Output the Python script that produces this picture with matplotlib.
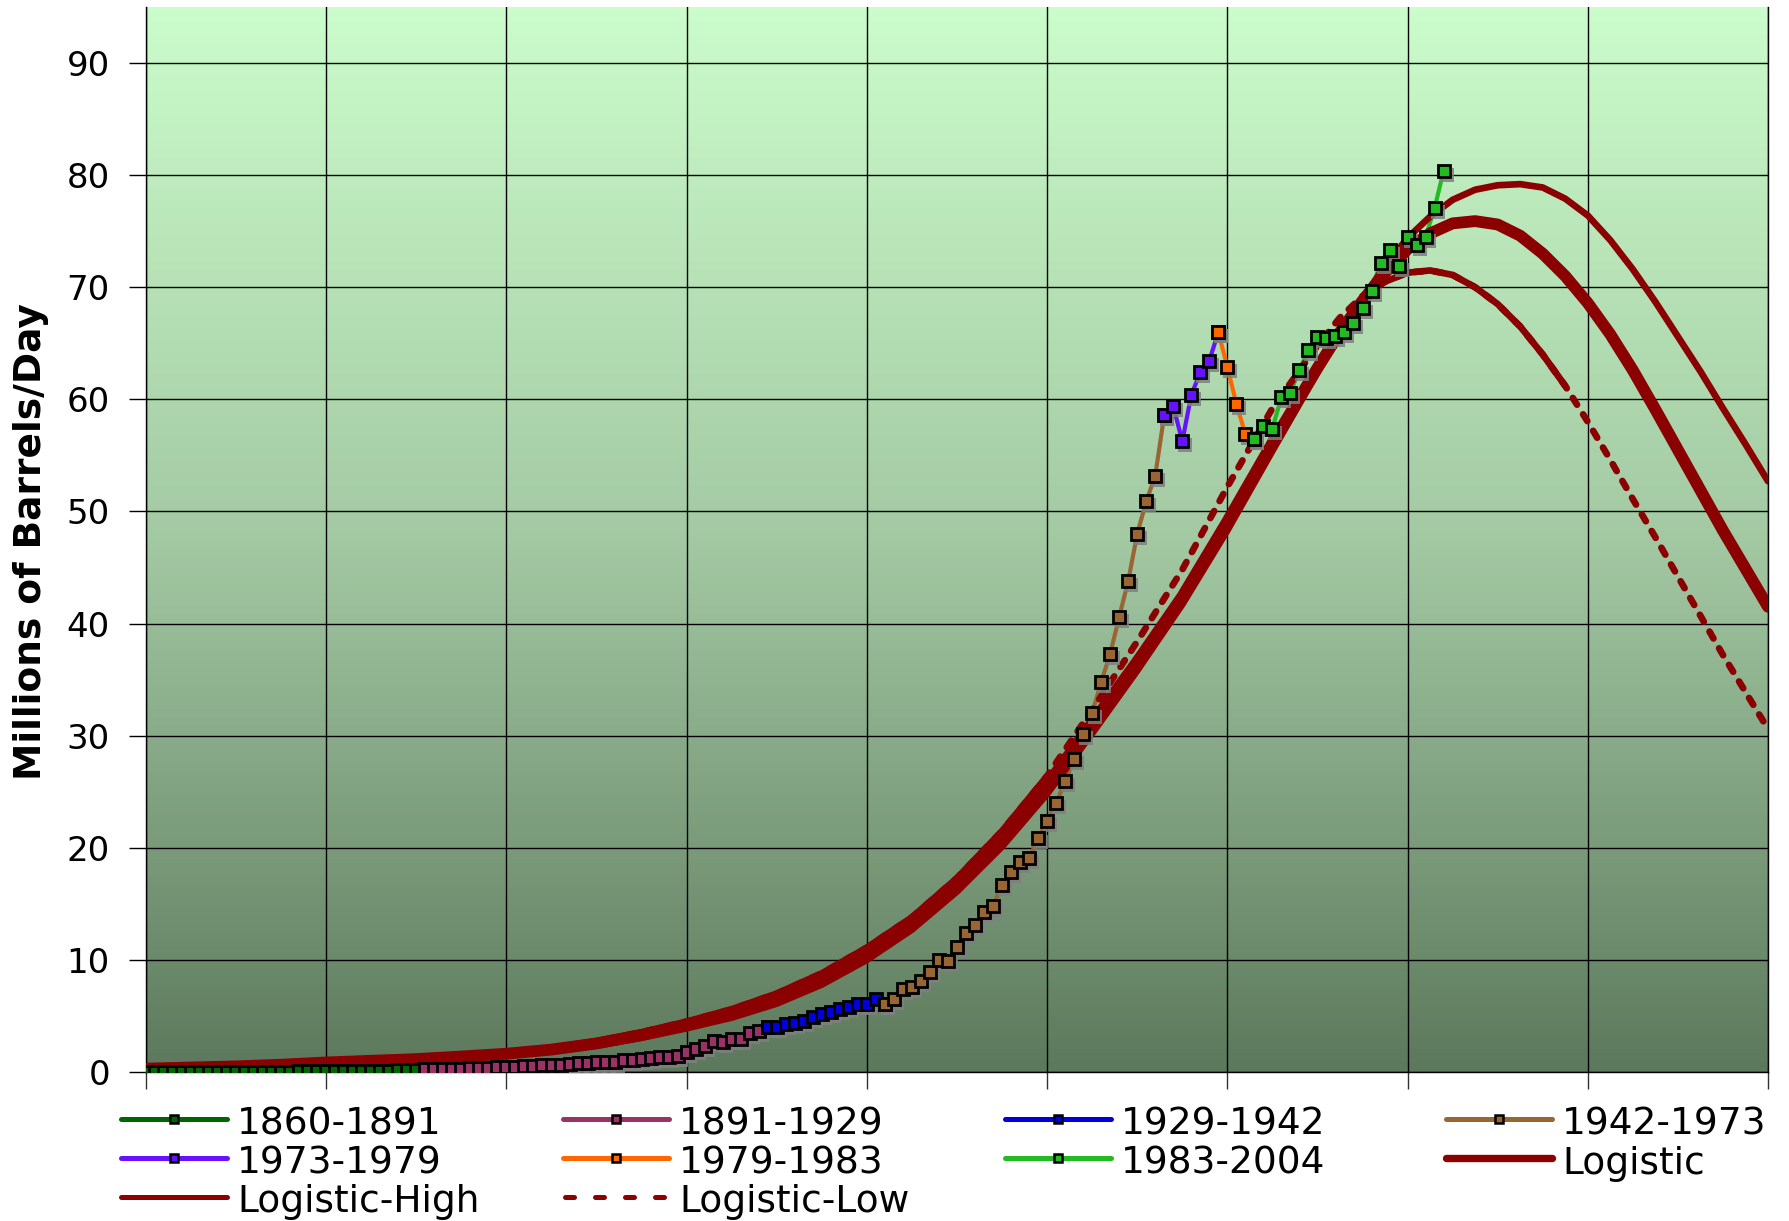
import numpy as np
import matplotlib
matplotlib.use("Agg")
import matplotlib.pyplot as plt
from matplotlib.colors import LinearSegmentedColormap
from matplotlib.lines import Line2D
import matplotlib.transforms as mtransforms

plt.rcParams['font.family'] = ['DejaVu Sans']

# ---------------- data (million barrels per day) ----------------
years_1860_1891 = list(range(1860, 1892))
prod_1860_1891 = [0.00, 0.01, 0.01, 0.01, 0.01, 0.01, 0.02, 0.02, 0.02, 0.02,
                  0.02, 0.02, 0.03, 0.04, 0.04, 0.04, 0.04, 0.05, 0.05, 0.07,
                  0.08, 0.08, 0.08, 0.08, 0.10, 0.10, 0.13, 0.13, 0.14, 0.17,
                  0.21, 0.25]

years_1891_1929 = list(range(1891, 1930))
prod_1891_1929 = [0.24, 0.25, 0.27, 0.30, 0.31, 0.33, 0.37, 0.39, 0.41, 0.46,
                  0.49, 0.51, 0.56, 0.60, 0.59, 0.59, 0.70, 0.78, 0.82, 0.86,
                  0.88, 0.90, 1.04, 1.11, 1.16, 1.22, 1.34, 1.36, 1.46, 1.82,
                  2.08, 2.29, 2.79, 2.70, 2.90, 2.97, 3.45, 3.63, 4.02]

years_1929_1942 = list(range(1929, 1943))
prod_1929_1942 = [4.02, 4.05, 4.32, 4.40, 4.58, 4.88, 5.15, 5.36, 5.65, 5.80,
                  6.07, 6.07, 6.49, 6.04]

years_1942_1973 = list(range(1942, 1974))
prod_1942_1973 = [6.04, 6.55, 7.44, 7.59, 8.13, 8.90, 10.0, 9.94, 11.13, 12.44,
                  13.13, 14.23, 14.82, 16.64, 17.80, 18.75, 19.05, 20.83, 22.41, 23.96,
                  25.92, 27.92, 30.15, 32.0, 34.8, 37.3, 40.6, 43.8, 48.0, 50.9,
                  53.2, 58.6]

years_1973_1979 = list(range(1973, 1980))
prod_1973_1979 = [58.6, 59.4, 56.25, 60.4, 62.4, 63.45, 66.0]

years_1979_1983 = list(range(1979, 1984))
prod_1979_1983 = [66.0, 62.9, 59.6, 56.9, 56.5]

years_1983_2004 = list(range(1983, 2005))
prod_1983_2004 = [56.5, 57.6, 57.4, 60.2, 60.6, 62.65, 64.4, 65.6, 65.5, 65.65,
                  66.0, 66.85, 68.15, 69.7, 72.2, 73.3, 71.9, 74.5, 73.75, 74.5,
                  77.05, 80.4]

logistic_years = [1860, 1865, 1870, 1875, 1880, 1885, 1890, 1895, 1900, 1905,
                  1910, 1915, 1920, 1925, 1930, 1935, 1940, 1945, 1950, 1955,
                  1960, 1965, 1970, 1975, 1980, 1985, 1990, 1992.5, 1995, 1997.5,
                  2000, 2002.5, 2005, 2007.5, 2010, 2012.5, 2015, 2017.5, 2020, 2022.5,
                  2025, 2027.5, 2030, 2032.5, 2035, 2037.5, 2040]
logistic = [0.30, 0.40, 0.50, 0.65, 0.85, 1.00, 1.15, 1.38, 1.63, 2.00,
            2.55, 3.30, 4.20, 5.20, 6.50, 8.30, 10.6, 13.3, 16.8, 20.9,
            25.6, 31.1, 36.6, 42.4, 49.1, 56.1, 62.8, 66.0, 68.8, 71.3,
            73.4, 74.8, 75.7, 75.9, 75.6, 74.6, 73.0, 71.0, 68.6, 65.8,
            62.6, 59.1, 55.5, 51.9, 48.3, 44.9, 41.5]
logistic_high = [0.28, 0.37, 0.47, 0.60, 0.78, 0.92, 1.07, 1.28, 1.50, 1.85,
                 2.35, 3.05, 3.90, 4.85, 6.10, 7.80, 10.0, 12.7, 16.1, 20.1,
                 24.8, 30.2, 35.8, 41.7, 48.3, 55.4, 62.4, 65.9, 69.0, 71.9,
                 74.4, 76.3, 77.8, 78.7, 79.1, 79.2, 78.9, 77.9, 76.4, 74.2,
                 71.6, 68.7, 65.6, 62.5, 59.2, 56.0, 52.7]
logistic_low = [0.32, 0.43, 0.54, 0.70, 0.90, 1.07, 1.24, 1.48, 1.76, 2.15,
                2.75, 3.55, 4.50, 5.60, 7.00, 8.80, 11.1, 13.8, 17.3, 21.5,
                26.4, 32.3, 38.4, 44.8, 52.2, 59.2, 64.8, 67.3, 69.2, 70.5,
                71.3, 71.5, 71.1, 70.0, 68.5, 66.5, 64.0, 61.2, 58.0, 54.6,
                51.1, 47.7, 44.2, 40.7, 37.2, 33.9, 30.6]

series_labels = ['1860-1891', '1891-1929', '1929-1942', '1942-1973',
                 '1973-1979', '1979-1983', '1983-2004']
series_years = [years_1860_1891, years_1891_1929, years_1929_1942, years_1942_1973,
                years_1973_1979, years_1979_1983, years_1983_2004]
series_values = [prod_1860_1891, prod_1891_1929, prod_1929_1942, prod_1942_1973,
                 prod_1973_1979, prod_1979_1983, prod_1983_2004]
series_colors = ['#006600', '#993366', '#0000dd', '#996633',
                 '#6611ff', '#ff6600', '#22bb22']
logistic_color = '#8b0000'

y_ticks = [0, 10, 20, 30, 40, 50, 60, 70, 80, 90]
x_grid = list(range(1860, 2041, 20))

# ---------------- figure ----------------
W, H = 1790, 1221
fig = plt.figure(figsize=(W / 100, H / 100), dpi=100)
fig.patch.set_facecolor('white')
ax = fig.add_axes([146 / W, 1 - 1072 / H, (1768 - 146) / W, (1072 - 7) / H])

# gradient background
cmap = LinearSegmentedColormap.from_list('bg', ['#5d795d', '#a3c9a3', '#cbfccb'])
grad = np.linspace(0, 1, 256).reshape(-1, 1)
ax.imshow(grad, extent=[1860, 2040, 0, 95], origin='lower', aspect='auto',
          cmap=cmap, zorder=0, interpolation='bicubic')

ax.set_xlim(1860, 2040)
ax.set_ylim(0, 95)
ax.set_xticks(x_grid)
ax.set_yticks(y_ticks)
ax.set_axisbelow(True)
ax.grid(True, color='black', lw=1.0)
ax.tick_params(axis='x', length=12, width=1.0, direction='out', labelbottom=False,
               color='#333333')
ax.tick_params(axis='y', length=12, width=1.0, direction='out', labelsize=24.5, pad=14)
for s in ['left', 'bottom', 'right']:
    ax.spines[s].set_color('black')
    ax.spines[s].set_linewidth(1.0)
ax.spines['top'].set_visible(False)

# data lines (under logistic curves)
for yrs, vals, col in zip(series_years, series_values, series_colors):
    ax.plot(yrs, vals, color=col, lw=3.0, zorder=2, solid_capstyle='round')

# logistic curves
ly = np.array(logistic_years)
low_arr = np.array(logistic_low)
ax.plot(ly, low_arr, color=logistic_color, lw=4.8, zorder=3,
        linestyle=(0, (1.2, 1.7)), dash_capstyle='round')
for m in [(ly <= 1962), (ly >= 1995) & (ly <= 2017.5)]:
    ax.plot(ly[m], low_arr[m], color=logistic_color, lw=4.8, zorder=3,
            solid_capstyle='round')
ax.plot(logistic_years, logistic_high, color=logistic_color, lw=4.8, zorder=3,
        solid_capstyle='round')
ax.plot(logistic_years, logistic, color=logistic_color, lw=8.5, zorder=3.1,
        solid_capstyle='round')

# markers with drop shadow
shadow_tr = mtransforms.offset_copy(ax.transData, fig=fig, x=3, y=-4, units='dots')
for yrs, vals, col in zip(series_years, series_values, series_colors):
    ax.plot(yrs, vals, linestyle='none', marker='s', ms=10.2, mfc='#7f7f7f',
            mec='#7f7f7f', mew=0, alpha=0.85, transform=shadow_tr, zorder=3.5)
for yrs, vals, col in zip(series_years, series_values, series_colors):
    ax.plot(yrs, vals, linestyle='none', marker='s', ms=8.2, mfc=col,
            mec='black', mew=2.0, zorder=4)

# y label
fig.text(31 / W, 1 - 542 / H, 'Millions of Barrels/Day', rotation=90,
         fontsize=27, fontweight='bold', ha='center', va='center')

# ---------------- legend (drawn manually to match Excel layout) ----------------
legend_labels = series_labels + ['Logistic', 'Logistic-High', 'Logistic-Low']
legend_colors = series_colors + [logistic_color] * 3
col_x = [121, 563, 1005, 1446]
row_y = [1119, 1158, 1197]
for i, (lab, col) in enumerate(zip(legend_labels, legend_colors)):
    r, c = divmod(i, 4)
    x0 = col_x[c]
    y = row_y[r]
    fx0, fx1 = x0 / W, (x0 + 106) / W
    fy = 1 - y / H
    if lab == 'Logistic':
        ln = Line2D([fx0, fx1], [fy, fy], transform=fig.transFigure, color=col,
                    lw=5.3, solid_capstyle='round')
    elif lab == 'Logistic-Low':
        ln = Line2D([fx0 + 2.5 / W, fx1], [fy, fy], transform=fig.transFigure, color=col,
                    lw=3.6, linestyle=(0, (1.8, 4.2)), dash_capstyle='round')
    else:
        ln = Line2D([fx0, fx1], [fy, fy], transform=fig.transFigure, color=col,
                    lw=3.6, solid_capstyle='round')
    fig.add_artist(ln)
    if i < 7:
        mk = Line2D([(fx0 + fx1) / 2], [fy], transform=fig.transFigure, linestyle='none',
                    marker='s', ms=6.3, mfc=col, mec='black', mew=1.8)
        fig.add_artist(mk)
    fig.text((x0 + 116) / W, 1 - (y + 15.5) / H, lab, fontsize=27,
             ha='left', va='baseline')

fig.savefig('out.png', dpi=100)
